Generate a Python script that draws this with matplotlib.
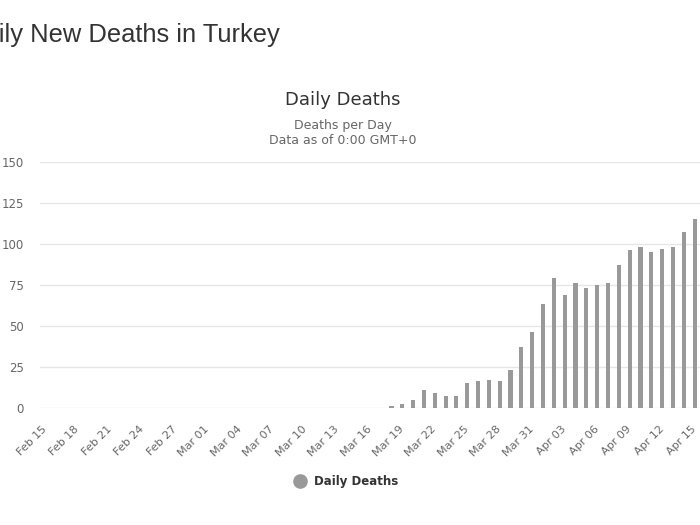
import pandas as pd
import matplotlib.pyplot as plt
import matplotlib.dates as mdates
from matplotlib.lines import Line2D

# daily deaths, Mar 18 .. Apr 15 (zero before)
dates = pd.date_range('2020-02-15', '2020-04-15', freq='D')
first_day = '2020-03-18'
deaths_from_first = [1, 2, 5, 11, 9, 7, 7, 15, 16, 17, 16, 23, 37, 46, 63,
                     79, 69, 76, 73, 75, 76, 87, 96, 98, 95, 97, 98, 107, 115]
n_zero = (pd.Timestamp(first_day) - dates[0]).days
deaths = [0] * n_zero + deaths_from_first
yticks = [0, 25, 50, 75, 100, 125, 150]
tick_dates = dates[::3]

bar_color = '#999999'
grey_text = '#666666'

fig = plt.figure(figsize=(7, 5.25), dpi=100)
ax = fig.add_axes([0.0566, 0.2234, 0.9434, 0.4686])

ax.bar(dates, deaths, width=0.38, color=bar_color, zorder=3)

ax.set_ylim(0, 150)
ax.set_yticks(yticks)
ax.set_xlim(dates[0] - pd.Timedelta(hours=12), dates[-1] + pd.Timedelta(hours=12))
ax.set_xticks(tick_dates)
ax.xaxis.set_major_formatter(mdates.DateFormatter('%b %d'))
ax.grid(axis='y', color='#e6e6e6', linewidth=1, zorder=0)
for s in ax.spines.values():
    s.set_visible(False)
ax.tick_params(axis='both', length=0, labelsize=8.5, labelcolor=grey_text)
ax.tick_params(axis='y', pad=11.5)
ax.tick_params(axis='x', pad=14, labelsize=8)
for lbl in ax.get_xticklabels():
    lbl.set_rotation(45)
    lbl.set_ha('right')
    lbl.set_va('center')
    lbl.set_rotation_mode('anchor')

fig.text(280 / 700, 1 - 35 / 525, 'Daily New Deaths in Turkey', ha='right', va='center',
         fontsize=18.4, family='Liberation Sans', color='#333333')
fig.text(343 / 700, 1 - 100 / 525, 'Daily Deaths', ha='center', va='center',
         fontsize=13, color='#333333')
fig.text(343 / 700, 1 - 125 / 525, 'Deaths per Day', ha='center', va='center',
         fontsize=9, color=grey_text)
fig.text(343 / 700, 1 - 141 / 525, 'Data as of 0:00 GMT+0', ha='center', va='center',
         fontsize=9, color=grey_text)

handle = Line2D([], [], marker='o', linestyle='', markersize=9.5,
                markerfacecolor=bar_color, markeredgecolor=bar_color)
fig.legend([handle], ['Daily Deaths'], loc='center', bbox_to_anchor=(343 / 700, 1 - 482 / 525),
           frameon=False, handletextpad=0.2, prop={'weight': 'bold', 'size': 8.5},
           labelcolor='#333333')

fig.savefig('out.png', dpi=100)
